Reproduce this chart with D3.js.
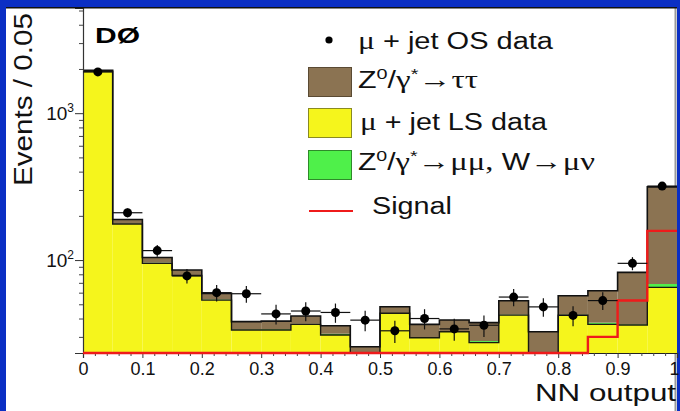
<!DOCTYPE html>
<html>
<head>
<meta charset="utf-8">
<script src="https://cdn.jsdelivr.net/npm/d3@7"></script>
<style>
  html, body { margin: 0; padding: 0; background: #0b2fc4; }
  svg { display: block; }
</style>
</head>
<body>
<svg id="chart" width="680" height="411"></svg>
<script>
// NN output histogram, bins of width 0.05
const binStart = [0.00, 0.05, 0.10, 0.15, 0.20, 0.25, 0.30, 0.35, 0.40, 0.45,
                  0.50, 0.55, 0.60, 0.65, 0.70, 0.75, 0.80, 0.85, 0.90, 0.95];
const binWidth = 0.05;

// Background components (stacked): mu+jet LS data, Z->mumu / W->munu, Z->tautau
const lsData  = [1920, 176, 95, 78.5, 53.4, 33.4, 33.4, 36.5, 30.9, 21,
                 43.4, 29.6, 32.5, 27.4, 42.2, 12, 42.2, 36.5, 36.1, 65.2];
const zmumuW  = [4, 1, 1, 0.5, 0.5, 0.3, 0.4, 0.3, 0.6, 0.5,
                 0.2, 0.3, 0.3, 0.7, 0.3, 0, 0.3, 1.0, 0.4, 3.5];
const ztautau = [36, 12, 8, 6.5, 5.4, 4.4, 4.6, 4.8, 4.2, 4.2,
                 4.5, 6.6, 6.3, 9.4, 10.4, 20.5, 14.7, 24.3, 46, 246.3];

// mu+jet OS data with statistical errors
const osData = [1910, 210, 116, 78, 60, 59, 43, 45, 44, 39,
                33, 40, 34, 36, 56, 48, 42, 53, 95, 319];
const osErr  = [44, 14.5, 10.8, 8.8, 7.7, 7.7, 6.6, 6.7, 6.6, 6.2,
                5.7, 6.3, 5.8, 6.0, 7.5, 6.9, 6.5, 7.3, 9.7, 17.9];

// Signal expectation
const signal = [0, 0, 0, 0, 0, 0, 0, 0, 0, 0,
                0, 0, 0, 0, 0, 0, 0, 30, 53, 158];

// Axis ticks
const xMajor = [0, 0.1, 0.2, 0.3, 0.4, 0.5, 0.6, 0.7, 0.8, 0.9, 1];
const xTickLabels = ["0", "0.1", "0.2", "0.3", "0.4", "0.5", "0.6", "0.7", "0.8", "0.9", "1"];
const xMinor = [0.02, 0.04, 0.06, 0.08, 0.12, 0.14, 0.16, 0.18, 0.22, 0.24, 0.26, 0.28,
                0.32, 0.34, 0.36, 0.38, 0.42, 0.44, 0.46, 0.48, 0.52, 0.54, 0.56, 0.58,
                0.62, 0.64, 0.66, 0.68, 0.72, 0.74, 0.76, 0.78, 0.82, 0.84, 0.86, 0.88,
                0.92, 0.94, 0.96, 0.98];
const yMajor = [100, 1000];
const yExponents = ["2", "3"];
const yMinor = [30, 40, 50, 60, 70, 80, 90, 200, 300, 400, 500, 600, 700, 800, 900,
                2000, 3000, 4000, 5000];

const COL = {
  ls: "#f5f51c",
  zmm: "#4ff04a",
  ztt: "#8b7352",
  signal: "#ef1b1b",
  bg: "#0b2fc4"
};
const SANS = "'Liberation Sans', Arial, Helvetica, sans-serif";
const SERIF = "'Liberation Serif', 'Times New Roman', serif";

const W = 680, H = 411;
const svg = d3.select("#chart");

// page background and white canvas
svg.append("rect").attr("width", W).attr("height", H).attr("fill", COL.bg);
svg.append("rect").attr("x", 6).attr("y", 7).attr("width", 671).attr("height", H - 7).attr("fill", "#fff");
svg.append("line").attr("x1", 675.5).attr("x2", 675.5).attr("y1", 7).attr("y2", H)
  .attr("stroke", "#9a9a9a").attr("stroke-width", 2);

const x = d3.scaleLinear().domain([0, 1]).range([83, 677]);
const y = d3.scaleLog().domain([23.3, 5200]).range([353, 8]).clamp(true);

svg.append("clipPath").attr("id", "plotClip")
  .append("rect").attr("x", 83).attr("y", 8).attr("width", 594).attr("height", 345);

const plot = svg.append("g").attr("clip-path", "url(#plotClip)");

// stacked background histogram
const rows = binStart.map((b, i) => ({ b, ls: lsData[i], zmm: zmumuW[i], ztt: ztautau[i] }));
const layers = d3.stack().keys(["ls", "zmm", "ztt"])(rows);

layers.forEach(layer => {
  plot.append("g").selectAll("rect").data(layer).join("rect")
    .attr("x", d => x(d.data.b))
    .attr("width", d => x(d.data.b + binWidth) - x(d.data.b))
    .attr("y", d => y(d[1]))
    .attr("height", d => Math.max(0, y(Math.max(d[0], 1e-9)) - y(d[1])))
    .attr("fill", COL[layer.key]);
});

function stepPath(vals) {
  const pts = binStart.map((b, i) => [x(b), y(Math.max(vals[i], 1e-9))]);
  pts.push([x(1), y(Math.max(vals[vals.length - 1], 1e-9))]);
  return d3.line().curve(d3.curveStepAfter)(pts);
}

// outlines: top of LS data and top of full stack
plot.append("path").attr("d", stepPath(layers[0].map(d => d[1])))
  .attr("fill", "none").attr("stroke", "#1a1a10").attr("stroke-width", 1.4);
plot.append("path").attr("d", stepPath(layers[2].map(d => d[1])))
  .attr("fill", "none").attr("stroke", "#111").attr("stroke-width", 1.6);

// axes
const xAxis = d3.axisBottom(x).tickValues(xMajor).tickSize(5).tickPadding(4)
  .tickFormat((d, i) => xTickLabels[i]);
const gx = svg.append("g").attr("transform", "translate(0,353)").call(xAxis);
gx.select(".domain").attr("stroke", "#222").attr("stroke-width", 1.2);
gx.selectAll(".tick line").attr("stroke", "#333");
gx.selectAll(".tick text").attr("font-family", SANS).attr("font-size", 18).attr("fill", "#111");
// keep the last label inside the canvas edge
gx.selectAll(".tick text").filter(d => d === 1).attr("text-anchor", "end").attr("dx", 2);

const xAxisMinor = d3.axisBottom(x).tickValues(xMinor).tickSize(3).tickFormat("");
const gxm = svg.append("g").attr("transform", "translate(0,353)").call(xAxisMinor);
gxm.select(".domain").remove();
gxm.selectAll(".tick line").attr("stroke", "#444");

const yAxis = d3.axisLeft(y).tickValues(yMajor).tickSize(8).tickPadding(1)
  .tickFormat(d => "10");
const gy = svg.append("g").attr("transform", "translate(83,0)").call(yAxis);
gy.select(".domain").attr("stroke", "#333").attr("stroke-width", 1.2);
gy.selectAll(".tick line").attr("stroke", "#333");
gy.selectAll(".tick text")
  .attr("font-family", SANS).attr("font-size", 19).attr("fill", "#111")
  .each(function (d, i) {
    const t = d3.select(this);
    t.text("");
    t.append("tspan").text("10");
    t.append("tspan").attr("dy", -8).attr("font-size", 12).text(yExponents[i]);
  });

const yAxisMinor = d3.axisLeft(y).tickValues(yMinor).tickSize(4).tickFormat("");
const gym = svg.append("g").attr("transform", "translate(83,0)").call(yAxisMinor);
gym.select(".domain").remove();
gym.selectAll(".tick line").attr("stroke", "#444");

// top border of the canvas
svg.append("line").attr("x1", 6).attr("x2", 677).attr("y1", 7.8).attr("y2", 7.8)
  .attr("stroke", "#111").attr("stroke-width", 1.6);

// signal histogram
svg.append("path").attr("d", stepPath(signal))
  .attr("fill", "none").attr("stroke", COL.signal).attr("stroke-width", 2.4);

// OS data points with error bars
const pts = svg.append("g");
osData.forEach((v, i) => {
  const cx = x(binStart[i] + binWidth / 2);
  pts.append("line")
    .attr("x1", x(binStart[i])).attr("x2", x(binStart[i] + binWidth))
    .attr("y1", y(v)).attr("y2", y(v))
    .attr("stroke", "#111").attr("stroke-width", 1.2);
  pts.append("line")
    .attr("x1", cx).attr("x2", cx)
    .attr("y1", y(v + osErr[i])).attr("y2", y(v - osErr[i]))
    .attr("stroke", "#111").attr("stroke-width", 1.2);
  pts.append("circle").attr("cx", cx).attr("cy", y(v)).attr("r", 4.5).attr("fill", "#000");
});

// axis titles
svg.append("text")
  .attr("transform", "translate(32,186) rotate(-90)")
  .attr("font-family", SANS).attr("font-size", 26).attr("fill", "#111")
  .attr("textLength", 173).attr("lengthAdjust", "spacingAndGlyphs")
  .text("Events / 0.05");

svg.append("text")
  .attr("x", 535).attr("y", 401)
  .attr("font-family", SANS).attr("font-size", 24).attr("fill", "#111")
  .attr("textLength", 141).attr("lengthAdjust", "spacingAndGlyphs")
  .text("NN output");

svg.append("text")
  .attr("x", 95).attr("y", 43)
  .attr("font-family", SANS).attr("font-size", 22).attr("font-weight", "bold").attr("fill", "#000")
  .attr("textLength", 45).attr("lengthAdjust", "spacingAndGlyphs")
  .text("DØ");

// legend
const legend = svg.append("g");
legend.append("circle").attr("cx", 329).attr("cy", 40).attr("r", 3.6).attr("fill", "#000");
const boxes = [
  { y: 67, fill: COL.ztt, stroke: "#5a4a33" },
  { y: 108, fill: COL.ls, stroke: "#8a8a20" },
  { y: 150, fill: COL.zmm, stroke: "#2e8a2a" }
];
boxes.forEach(b => {
  legend.append("rect").attr("x", 308.5).attr("y", b.y + 0.5).attr("width", 43).attr("height", 29)
    .attr("fill", b.fill).attr("stroke", b.stroke).attr("stroke-width", 1);
});
legend.append("line").attr("x1", 309).attr("x2", 353).attr("y1", 211).attr("y2", 211)
  .attr("stroke", COL.signal).attr("stroke-width", 2);

const legendText = [
  { x: 358, y: 49, len: 195, parts: [["μ", "serif"], [" + jet OS data"]] },
  { x: 358, y: 88, len: 120, parts: [["Z"], ["0", "sup"], ["/"], ["γ", "serif"], ["*", "sup"], ["→ττ", "serif"]] },
  { x: 360, y: 130, len: 187, parts: [["μ", "serif"], [" + jet LS data"]] },
  { x: 358, y: 170, len: 237, parts: [["Z"], ["0", "sup"], ["/"], ["γ", "serif"], ["*", "sup"], ["→μμ, ", "serif"], ["W"], ["→μν", "serif"]] },
  { x: 372, y: 214, len: 80, parts: [["Signal"]] }
];
legendText.forEach(item => {
  const t = legend.append("text")
    .attr("x", item.x).attr("y", item.y)
    .attr("font-family", SANS).attr("font-size", 23).attr("fill", "#111")
    .attr("textLength", item.len).attr("lengthAdjust", "spacingAndGlyphs");
  let raised = false;
  item.parts.forEach(([str, kind]) => {
    const s = t.append("tspan").text(str);
    if (kind === "serif") s.attr("font-family", SERIF).attr("font-size", 25);
    if (kind === "sup") {
      s.attr("font-size", 15).attr("dy", raised ? 0 : -9);
      raised = true;
    } else if (raised) {
      s.attr("dy", 9);
      raised = false;
    }
  });
});
</script>
</body>
</html>
